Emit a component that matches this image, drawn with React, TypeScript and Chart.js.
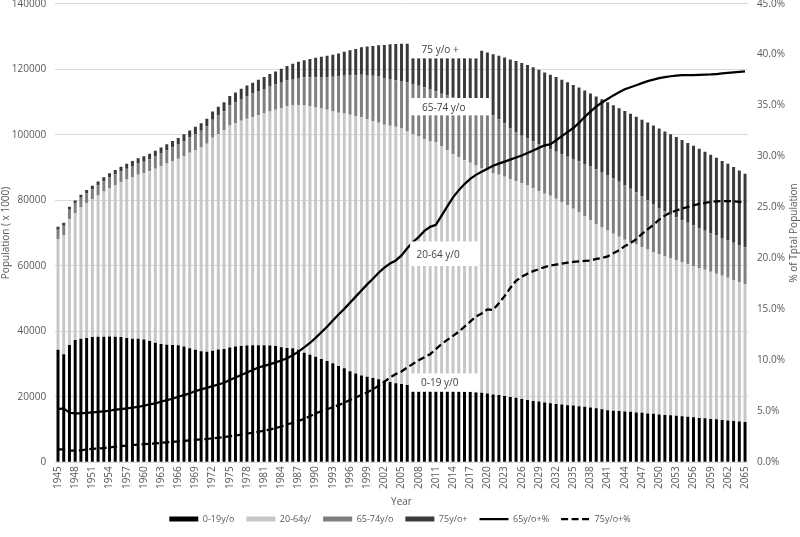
import React, { useEffect, useRef } from 'react';
import { Chart, registerables } from 'chart.js';

Chart.register(...registerables);

const years = [
  1945, 1946, 1947, 1948, 1949, 1950, 1951, 1952, 1953, 1954,
  1955, 1956, 1957, 1958, 1959, 1960, 1961, 1962, 1963, 1964,
  1965, 1966, 1967, 1968, 1969, 1970, 1971, 1972, 1973, 1974,
  1975, 1976, 1977, 1978, 1979, 1980, 1981, 1982, 1983, 1984,
  1985, 1986, 1987, 1988, 1989, 1990, 1991, 1992, 1993, 1994,
  1995, 1996, 1997, 1998, 1999, 2000, 2001, 2002, 2003, 2004,
  2005, 2006, 2007, 2008, 2009, 2010, 2011, 2012, 2013, 2014,
  2015, 2016, 2017, 2018, 2019, 2020, 2021, 2022, 2023, 2024,
  2025, 2026, 2027, 2028, 2029, 2030, 2031, 2032, 2033, 2034,
  2035, 2036, 2037, 2038, 2039, 2040, 2041, 2042, 2043, 2044,
  2045, 2046, 2047, 2048, 2049, 2050, 2051, 2052, 2053, 2054,
  2055, 2056, 2057, 2058, 2059, 2060, 2061, 2062, 2063, 2064,
  2065,
];

// Population (x 1000) aged 0-19
const pop0to19 = [
  34300, 33000, 35800, 37300, 37700, 37900, 38200, 38300, 38300, 38400,
  38300, 38200, 37900, 37700, 37700, 37500, 37000, 36500, 36100, 35900,
  35800, 35700, 35300, 34800, 34300, 33900, 33700, 34000, 34400, 34600,
  35000, 35300, 35500, 35600, 35700, 35700, 35700, 35600, 35500, 35100,
  34900, 34800, 34300, 33400, 32800, 32200, 31500, 30900, 30200, 29400,
  28700, 27800, 27100, 26500, 26100, 25700, 25300, 24900, 24500, 24100,
  23900, 23600, 23300, 23100, 22900, 22700, 22500, 22300, 22100, 21900,
  21700, 21500, 21400, 21300, 21200, 21000, 20700, 20500, 20200, 19900,
  19700, 19300, 19000, 18700, 18500, 18200, 18000, 17800, 17600, 17400,
  17300, 17100, 16900, 16700, 16500, 16200, 15900, 15700, 15600, 15500,
  15400, 15200, 15100, 14900, 14800, 14600, 14400, 14300, 14200, 14000,
  13900, 13700, 13500, 13400, 13200, 13100, 12900, 12700, 12600, 12400,
  12300,
];

// Population (x 1000) aged 20-64
const pop20to64 = [
  33860, 36240, 38420, 38770, 40080, 41170, 42060, 43160, 44350, 45350,
  46310, 47310, 48390, 49380, 50050, 50730, 51850, 53110, 54300, 55280,
  56190, 56940, 58200, 59660, 60950, 62200, 63540, 65100, 65820, 66730,
  67790, 68210, 68750, 69270, 69720, 70240, 70790, 71520, 72110, 73010,
  73760, 74120, 74730, 75480, 75900, 76230, 76520, 76690, 76910, 77300,
  77740, 78310, 78590, 78850, 78660, 78520, 78320, 78170, 78220, 78310,
  77960, 77360, 76900, 76380, 75730, 75350, 75220, 74190, 73170, 72150,
  71390, 70680, 70000, 69310, 68600, 68070, 67640, 67240, 66940, 66570,
  66170, 65910, 65480, 65000, 64340, 63790, 63390, 62640, 61820, 61020,
  60110, 59200, 58120, 57170, 56220, 55490, 54820, 54060, 53260, 52460,
  51840, 51260, 50590, 50020, 49400, 48880, 48420, 47880, 47420, 47030,
  46550, 46190, 45810, 45340, 44960, 44470, 44000, 43600, 43040, 42570,
  42010,
];

// Population (x 1000) aged 65-74
const pop65to74 = [
  2840, 2940, 2900, 2930, 2960, 2980, 3040, 3100, 3140, 3170,
  3230, 3270, 3320, 3370, 3450, 3520, 3650, 3730, 3870, 4030,
  4150, 4330, 4500, 4670, 4920, 5080, 5270, 5490, 5680, 5860,
  6170, 6430, 6670, 6910, 7130, 7370, 7480, 7590, 7690, 7790,
  7860, 8070, 8320, 8610, 8860, 9140, 9590, 10060, 10570, 11110,
  11530, 12020, 12500, 12990, 13450, 13790, 14130, 14270, 14290, 14240,
  14570, 14950, 15270, 15450, 15830, 15930, 15540, 16040, 16670, 17290,
  17650, 17760, 17730, 17540, 17460, 17260, 17630, 17000, 16310, 15500,
  14820, 14500, 14380, 14290, 14260, 14220, 14080, 14350, 14600, 14870,
  15150, 15560, 16060, 16430, 16700, 16890, 16980, 16890, 16750, 16510,
  16280, 15940, 15480, 15080, 14650, 14170, 13740, 13400, 13150, 12870,
  12630, 12370, 12130, 11930, 11750, 11620, 11530, 11450, 11390, 11360,
  11350,
];

// Population (x 1000) aged 75+
const pop75plus = [
  900, 920, 880, 900, 960, 1050, 1100, 1140, 1210, 1280,
  1360, 1420, 1490, 1550, 1600, 1650, 1700, 1760, 1830, 1890,
  1960, 2030, 2100, 2170, 2230, 2320, 2390, 2510, 2600, 2710,
  2840, 2960, 3080, 3220, 3350, 3490, 3630, 3790, 4000, 4200,
  4480, 4710, 4950, 5210, 5540, 5930, 6190, 6450, 6720, 6990,
  7330, 7670, 8010, 8360, 8690, 9090, 9550, 10060, 10590, 11050,
  11370, 11890, 12330, 12770, 13140, 13520, 14140, 14770, 15260, 15760,
  16260, 16860, 17470, 18050, 18340, 18770, 18630, 19360, 20150, 21030,
  21810, 22190, 22440, 22610, 22700, 22790, 22830, 22810, 22780, 22710,
  22640, 22540, 22420, 22300, 22280, 22220, 22200, 22350, 22490, 22730,
  22880, 23100, 23430, 23700, 23950, 24250, 24440, 24520, 24530, 24500,
  24420, 24340, 24260, 24130, 23990, 23810, 23570, 23350, 23070, 22770,
  22440,
];

// Share of total population aged 65+ (%)
const pct65plus = [
  5.2, 5.28, 4.85, 4.79, 4.8, 4.85, 4.9, 4.95, 5.0, 5.05,
  5.15, 5.2, 5.28, 5.35, 5.44, 5.54, 5.68, 5.77, 5.93, 6.1,
  6.23, 6.42, 6.59, 6.75, 6.98, 7.15, 7.3, 7.47, 7.63, 7.8,
  8.06, 8.32, 8.55, 8.81, 9.04, 9.3, 9.45, 9.6, 9.8, 9.98,
  10.2, 10.5, 10.85, 11.26, 11.7, 12.2, 12.75, 13.3, 13.9, 14.5,
  15.05, 15.65, 16.25, 16.85, 17.45, 18.0, 18.6, 19.1, 19.5, 19.8,
  20.3, 21.0, 21.6, 22.1, 22.7, 23.1, 23.3, 24.2, 25.1, 26.0,
  26.7, 27.3, 27.8, 28.2, 28.5, 28.8, 29.1, 29.3, 29.5, 29.7,
  29.9, 30.1, 30.35, 30.6, 30.85, 31.1, 31.2, 31.6, 32.0, 32.4,
  32.8, 33.3, 33.9, 34.4, 34.9, 35.3, 35.65, 36.0, 36.3, 36.6,
  36.8, 37.0, 37.2, 37.4, 37.55, 37.7, 37.8, 37.88, 37.95, 37.98,
  38.0, 38.0, 38.02, 38.04, 38.06, 38.1, 38.15, 38.2, 38.25, 38.3,
  38.35,
];

// Share of total population aged 75+ (%)
const pct75plus = [
  1.26, 1.26, 1.13, 1.13, 1.17, 1.26, 1.3, 1.33, 1.39, 1.45,
  1.52, 1.57, 1.63, 1.68, 1.72, 1.77, 1.8, 1.85, 1.9, 1.95,
  2.0, 2.05, 2.1, 2.14, 2.18, 2.24, 2.28, 2.34, 2.4, 2.47,
  2.54, 2.62, 2.7, 2.8, 2.89, 2.99, 3.09, 3.2, 3.35, 3.5,
  3.7, 3.87, 4.05, 4.25, 4.5, 4.8, 5.0, 5.2, 5.4, 5.6,
  5.85, 6.1, 6.35, 6.6, 6.85, 7.15, 7.5, 7.9, 8.3, 8.65,
  8.9, 9.3, 9.65, 10.0, 10.3, 10.6, 11.1, 11.6, 12.0, 12.4,
  12.8, 13.3, 13.8, 14.3, 14.6, 15.0, 14.95, 15.6, 16.3, 17.1,
  17.8, 18.2, 18.5, 18.75, 18.95, 19.15, 19.3, 19.4, 19.5, 19.58,
  19.65, 19.7, 19.75, 19.8, 19.95, 20.05, 20.2, 20.5, 20.8, 21.2,
  21.5, 21.9, 22.4, 22.85, 23.3, 23.8, 24.2, 24.5, 24.7, 24.9,
  25.05, 25.2, 25.35, 25.45, 25.55, 25.6, 25.62, 25.63, 25.6, 25.55,
  25.47,
];

const leftTicks = [0, 20000, 40000, 60000, 80000, 100000, 120000, 140000];
const rightTicks = [0, 5, 10, 15, 20, 25, 30, 35, 40, 45];

// In-chart text boxes (category index range, value range on left axis)
const boxLabels = [
  { text: '75 y/o +', from: 61.5, to: 73.5, top: 128900, bottom: 123300, dx: 11.5 },
  { text: '65-74 y/o', from: 61.5, to: 75.6, top: 111200, bottom: 105900, dx: 12 },
  { text: '20-64 y/0', from: 61.5, to: 73.5, top: 67400, bottom: 59900, dx: 6.5 },
  { text: '0-19 y/0', from: 61.5, to: 73.5, top: 27100, bottom: 21500, dx: 11 },
];

const FONT = "'Open Sans', 'DejaVu Sans', sans-serif";
const TEXT = '#595959';

const boxPlugin = {
  id: 'boxLabels',
  afterDatasetsDraw(chart: any) {
    const { ctx } = chart;
    const xs = chart.scales.x;
    const ys = chart.scales.y;
    ctx.save();
    ctx.font = `10px ${FONT}`;
    ctx.textBaseline = 'middle';
    ctx.textAlign = 'left';
    for (const b of boxLabels) {
      const x0 = xs.getPixelForValue(b.from);
      const x1 = xs.getPixelForValue(b.to);
      const y0 = ys.getPixelForValue(b.top);
      const y1 = ys.getPixelForValue(b.bottom);
      ctx.fillStyle = '#ffffff';
      ctx.fillRect(x0, y0, x1 - x0, y1 - y0);
      ctx.fillStyle = '#404040';
      ctx.fillText(b.text, x0 + b.dx, (y0 + y1) / 2 + 1);
    }
    ctx.restore();
  },
};

const rightTitlePlugin = {
  id: 'rightTitle',
  afterDraw(chart: any) {
    const { ctx, chartArea } = chart;
    ctx.save();
    ctx.translate(794, (chartArea.top + chartArea.bottom) / 2);
    ctx.rotate(-Math.PI / 2);
    ctx.font = `10px ${FONT}`;
    ctx.fillStyle = TEXT;
    ctx.textAlign = 'center';
    ctx.textBaseline = 'middle';
    ctx.fillText('% of Tptal Population', 0, 0);
    ctx.restore();
  },
};

export default function App() {
  const ref = useRef<HTMLCanvasElement>(null);

  useEffect(() => {
    if (!ref.current) return;
    Chart.defaults.font.family = FONT;
    Chart.defaults.font.size = 10;
    Chart.defaults.color = TEXT;

    const barCommon = {
      type: 'bar' as const,
      yAxisID: 'y',
      borderWidth: 0,
      barPercentage: 0.52,
      categoryPercentage: 1,
      order: 1,
      pointStyle: 'rect',
    };
    const chart = new Chart(ref.current, {
      type: 'bar',
      data: {
        labels: years.map(String),
        datasets: [
          { ...barCommon, label: '0-19y/o', data: pop0to19, backgroundColor: '#000000' },
          { ...barCommon, label: '20-64y/', data: pop20to64, backgroundColor: '#c7c7c7' },
          { ...barCommon, label: '65-74y/o', data: pop65to74, backgroundColor: '#7f7f7f' },
          { ...barCommon, label: '75y/o+', data: pop75plus, backgroundColor: '#3a3a3a' },
          {
            type: 'line',
            label: '65y/o+%',
            data: pct65plus,
            yAxisID: 'y1',
            borderColor: '#000000',
            backgroundColor: '#000000',
            borderWidth: 2.25,
            pointRadius: 0,
            pointHoverRadius: 0,
            pointStyle: 'line',
            tension: 0,
            fill: false,
            order: 0,
          },
          {
            type: 'line',
            label: '75y/o+%',
            data: pct75plus,
            yAxisID: 'y1',
            borderColor: '#000000',
            backgroundColor: '#000000',
            borderWidth: 2.25,
            borderDash: [7, 3.5],
            pointRadius: 0,
            pointHoverRadius: 0,
            pointStyle: 'line',
            tension: 0,
            fill: false,
            order: 0,
          },
        ] as any,
      },
      options: {
        responsive: false,
        devicePixelRatio: 1,
        animation: false,
        events: [],
        layout: { padding: { top: 3.7, left: 0, right: 0, bottom: 3.5 } },
        plugins: {
          tooltip: { enabled: false },
          legend: {
            position: 'bottom',
            labels: {
              usePointStyle: true,
              pointStyleWidth: 29,
              boxHeight: 5,
              padding: 12,
              color: TEXT,
              font: { size: 9, family: FONT },
              sort: (a: any, b: any) => a.datasetIndex - b.datasetIndex,
              generateLabels: (chart: any) => {
                const items = (Chart.defaults.plugins.legend.labels as any).generateLabels(chart);
                return items.map((it: any) => {
                  const ds = chart.data.datasets[it.datasetIndex];
                  if (ds.type === 'line') {
                    it.lineDash = ds.borderDash || [];
                    it.lineWidth = 2.25;
                    it.strokeStyle = '#000000';
                  }
                  return it;
                });
              },
            },
          },
        },
        scales: {
          x: {
            stacked: true,
            offset: true,
            grid: { display: false, drawTicks: false },
            border: { display: true, color: '#d9d9d9' },
            ticks: {
              autoSkip: false,
              maxRotation: 90,
              minRotation: 90,
              padding: 4,
              color: TEXT,
              font: { size: 10 },
              callback: (_v: any, i: number) => (i % 3 === 0 ? String(years[i]) : ''),
            },
            title: {
              display: true,
              text: 'Year',
              color: TEXT,
              font: { size: 10 },
              padding: { top: 0, bottom: -6 },
            },
            afterFit: (s: any) => {
              s.height = 40.3;
            },
          },
          y: {
            stacked: true,
            position: 'left',
            min: 0,
            max: 140000,
            afterBuildTicks: (s: any) => {
              s.ticks = leftTicks.map((v) => ({ value: v }));
            },
            grid: { color: '#d9d9d9', drawTicks: false, lineWidth: 1 },
            border: { display: false },
            ticks: {
              padding: 9,
              color: TEXT,
              font: { size: 10 },
              callback: (v: any) => String(v),
            },
            title: {
              display: true,
              text: 'Population ( x 1000)',
              color: TEXT,
              font: { size: 10 },
              padding: { top: 0, bottom: 0 },
            },
            afterFit: (s: any) => {
              s.width = 55.14;
              s.paddingTop = 0;
              s.paddingBottom = 0;
            },
          },
          y1: {
            position: 'right',
            min: 0,
            max: 45,
            afterBuildTicks: (s: any) => {
              s.ticks = rightTicks.map((v) => ({ value: v }));
            },
            grid: { display: false, drawTicks: false },
            border: { display: false },
            ticks: {
              padding: 9,
              color: TEXT,
              font: { size: 10 },
              callback: (v: any) => `${Number(v).toFixed(1)}%`,
            },
            afterFit: (s: any) => {
              s.width = 52.1;
              s.paddingTop = 0;
              s.paddingBottom = 0;
            },
          },
        },
      } as any,
      plugins: [boxPlugin, rightTitlePlugin],
    });
    return () => chart.destroy();
  }, []);

  return (
    <div style={{ position: 'absolute', left: 0, top: 0, width: 800, height: 537, background: '#ffffff' }}>
      <canvas ref={ref} width={800} height={537} style={{ display: 'block', width: 800, height: 537 }} />
    </div>
  );
}
